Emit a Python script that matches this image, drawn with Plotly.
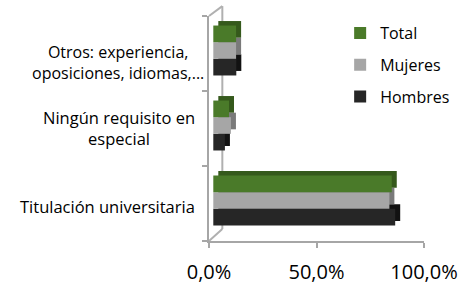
import plotly.graph_objects as go

categories = ["Titulación universitaria", "Ningún requisito en especial", "Otros: experiencia, oposiciones, idiomas,..."]
label_text = ["Titulación universitaria", "Ningún requisito en<br>especial", "Otros: experiencia,<br>oposiciones, idiomas,..."]
hombres = [84.6, 5.4, 10.7]
mujeres = [81.9, 8.2, 10.6]
total = [83.0, 7.3, 10.6]
tick_vals = [0, 50, 100]
tick_text = ["0,0%", "50,0%", "100,0%"]

# name, values, front colour, depth colour, legend rank
series = [
    ("Hombres", hombres, "#262626", "#121212", 3),
    ("Mujeres", mujeres, "#a6a6a6", "#7a7a7a", 2),
    ("Total", total, "#4a7a29", "#35591c", 1),
]

FONT = "Open Sans"
BAR_W = 0.222          # bar thickness (category units)
GROUP_SHIFT = 0.04     # whole group slightly above slot centre
BASE = 2.0             # front faces start slightly right of the axis (3D look)
DX, DY = 2.33, 0.06    # extrusion depth

fig = go.Figure()
# depth (side/top faces) drawn first
for i, (name, vals, col, dcol, rank) in enumerate(series):
    off = GROUP_SHIFT - 1.5 * BAR_W + i * BAR_W
    fig.add_trace(go.Bar(
        y=categories, x=vals, base=BASE + DX, orientation="h", width=BAR_W, offset=off + DY,
        marker=dict(color=dcol, line=dict(width=0)), showlegend=False, hoverinfo="skip",
    ))
for i, (name, vals, col, dcol, rank) in enumerate(series):
    off = GROUP_SHIFT - 1.5 * BAR_W + i * BAR_W
    fig.add_trace(go.Bar(
        y=categories, x=vals, base=BASE, name=name, orientation="h", width=BAR_W, offset=off,
        marker=dict(color=col, line=dict(width=0)), legendrank=rank, legendgroup=name,
    ))

label_shift = {0: (-12, -3), 1: (-12, 1), 2: (-3, -9)}
for k, (cat, txt) in enumerate(zip(categories, label_text)):
    fig.add_annotation(x=0, y=cat, xref="x", yref="y", text=txt, showarrow=False,
                       xanchor="right", align="center", xshift=label_shift[k][0], yshift=label_shift[k][1],
                       font=dict(family=FONT, size=16.5 if k < 2 else 16, color="#000000"))

# 3D frame decoration (back wall edges), behind the bars
line = dict(color="#b0b0b0", width=2)
fig.add_shape(type="line", xref="paper", yref="paper", x0=0, y0=0, x1=0.062, y1=0.053, line=line, layer="below")
fig.add_shape(type="line", xref="paper", yref="paper", x0=0.062, y0=0.053, x1=0.062, y1=1.044, line=line, layer="below")
fig.add_shape(type="line", xref="paper", yref="paper", x0=0, y0=1.0, x1=0.062, y1=1.044, line=line, layer="below")

fig.update_layout(
    width=467, height=284,
    margin=dict(l=209, r=43, t=16, b=43, autoexpand=False),
    paper_bgcolor="white", plot_bgcolor="white",
    barmode="overlay",
    font=dict(family=FONT, size=16, color="#000000"),
    showlegend=True,
    legend=dict(x=0.61, y=1.0, xanchor="left", yanchor="top", traceorder="grouped",
                tracegroupgap=8, font=dict(family=FONT, size=16), bgcolor="rgba(0,0,0,0)",
                itemwidth=30),
    xaxis=dict(range=[0, 100], tickvals=tick_vals, ticktext=tick_text, automargin=False,
               showgrid=False, zeroline=False, showline=True, linecolor="#a6a6a6", linewidth=2,
               ticks="outside", ticklen=5, tickcolor="#a6a6a6", tickwidth=2,
               ticklabelstandoff=7, tickfont=dict(family=FONT, size=20)),
    yaxis=dict(categoryorder="array", categoryarray=categories, showticklabels=False,
               range=[-0.5, 2.5], automargin=False,
               showgrid=False, zeroline=False, showline=True, linecolor="#a6a6a6", linewidth=2,
               ticks="outside", ticklen=5, tickcolor="#a6a6a6", tickwidth=2, tickson="boundaries"),
)
fig.write_html("out.html", config={"displayModeBar": False},
               post_script="document.body.style.margin='0';")
